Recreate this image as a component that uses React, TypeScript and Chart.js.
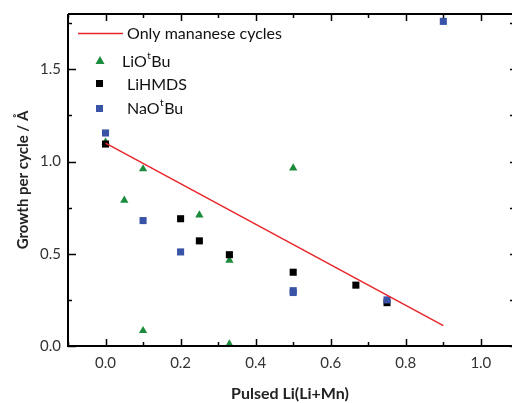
import React, { useEffect, useRef } from "react";
import { Chart, registerables } from "chart.js";
Chart.register(...registerables);

const lineX = [0, 0.9];
const lineY = [1.1, 0.11];
const liotbuX = [0, 0.05, 0.1, 0.1, 0.25, 0.33, 0.33, 0.5];
const liotbuY = [1.105, 0.79, 0.96, 0.083, 0.71, 0.465, 0.01, 0.965];
const lihmdsX = [0, 0.2, 0.25, 0.33, 0.5, 0.667, 0.75];
const lihmdsY = [1.095, 0.69, 0.57, 0.495, 0.4, 0.33, 0.235];
const naotbuX = [0, 0.1, 0.2, 0.5, 0.5, 0.75, 0.9];
const naotbuY = [1.155, 0.68, 0.51, 0.3, 0.29, 0.25, 1.76];
const xTicks = [0, 0.2, 0.4, 0.6, 0.8, 1.0];
const xMinor = [-0.1, 0.1, 0.3, 0.5, 0.7, 0.9];
const yTicks = [0, 0.5, 1.0, 1.5];
const yMinor = [0.25, 0.75, 1.25, 1.75];

const RED = "#e8262b";
const GREEN = "#1b8c3b";
const BLACK = "#000000";
const BLUE = "#3953a6";

const pts = (xs: number[], ys: number[]) => xs.map((x, i) => ({ x, y: ys[i] }));

const framePlugin = {
  id: "frame",
  afterDatasetsDraw(chart: any) {
    const { ctx, chartArea: a, scales } = chart;
    const xs = scales.x;
    const ys = scales.y;
    ctx.save();
    ctx.strokeStyle = "#000";
    ctx.lineWidth = 2;
    ctx.beginPath();
    ctx.moveTo(a.left, a.top);
    ctx.lineTo(a.left, a.bottom);
    ctx.lineTo(a.right, a.bottom);
    ctx.moveTo(a.left, a.top);
    ctx.lineTo(a.right, a.top);
    ctx.stroke();
    ctx.lineWidth = 1.5;
    ctx.beginPath();
    const tx = (v: number, len: number) => {
      const p = Math.round(xs.getPixelForValue(v)) + 0.5;
      ctx.moveTo(p, a.bottom);
      ctx.lineTo(p, a.bottom - len);
      ctx.moveTo(p, a.top);
      ctx.lineTo(p, a.top + len);
    };
    const ty = (v: number, len: number) => {
      const p = Math.round(ys.getPixelForValue(v)) + 0.5;
      ctx.moveTo(a.left, p);
      ctx.lineTo(a.left + len, p);
      ctx.moveTo(a.right, p);
      ctx.lineTo(a.right - 2, p);
    };
    xTicks.forEach((v) => tx(v, 7));
    xMinor.forEach((v) => tx(v, 4));
    yTicks.forEach((v) => ty(v, 8));
    yMinor.forEach((v) => ty(v, 4));
    ctx.stroke();
    ctx.restore();
  },
  afterDraw(chart: any) {
    const { ctx } = chart;
    ctx.save();
    ctx.fillStyle = "#111";
    ctx.textBaseline = "middle";
    const big = "16px Lato";
    const small = "10px Lato";
    ctx.strokeStyle = RED;
    ctx.lineWidth = 1.5;
    ctx.beginPath();
    ctx.moveTo(78, 33.5);
    ctx.lineTo(123, 33.5);
    ctx.stroke();
    ctx.font = big;
    ctx.fillText("Only mananese cycles", 127, 34);
    ctx.fillStyle = GREEN;
    ctx.beginPath();
    ctx.moveTo(100, 56);
    ctx.lineTo(104.5, 64);
    ctx.lineTo(95.5, 64);
    ctx.closePath();
    ctx.fill();
    ctx.fillStyle = "#111";
    const sup = (x: number, y: number, a: string, s: string, b: string) => {
      ctx.font = big;
      ctx.fillText(a, x, y);
      let w = ctx.measureText(a).width;
      ctx.font = small;
      ctx.fillText(s, x + w + 0.5, y - 6);
      w += ctx.measureText(s).width + 1;
      ctx.font = big;
      ctx.fillText(b, x + w, y);
    };
    sup(122, 62, "LiO", "t", "Bu");
    ctx.fillStyle = BLACK;
    ctx.fillRect(96, 80, 7, 7);
    ctx.fillStyle = "#111";
    ctx.font = big;
    ctx.fillText("LiHMDS", 127, 85);
    ctx.fillStyle = BLUE;
    ctx.fillRect(96, 105, 7, 7);
    ctx.fillStyle = "#111";
    sup(127, 109, "NaO", "t", "Bu");
    ctx.restore();
  },
};

export default function App() {
  const ref = useRef<HTMLCanvasElement>(null);
  useEffect(() => {
    document.body.style.margin = "0";
    const tickFont = { family: "Lato", size: 15 };
    const chart = new Chart(ref.current!, {
      type: "scatter",
      data: {
        datasets: [
          {
            type: "line",
            label: "Only mananese cycles",
            data: pts(lineX, lineY),
            borderColor: RED,
            borderWidth: 1.5,
            pointRadius: 0,
            fill: false,
          } as any,
          {
            label: "NaOtBu",
            data: pts(naotbuX, naotbuY),
            backgroundColor: BLUE,
            borderColor: BLUE,
            borderWidth: 0,
            pointStyle: "rect",
            pointRadius: 5,
          },
          {
            label: "LiHMDS",
            data: pts(lihmdsX, lihmdsY),
            backgroundColor: BLACK,
            borderColor: BLACK,
            borderWidth: 0,
            pointStyle: "rect",
            pointRadius: 5,
          },
          {
            label: "LiOtBu",
            data: pts(liotbuX, liotbuY),
            backgroundColor: GREEN,
            borderColor: GREEN,
            borderWidth: 0,
            pointStyle: "triangle",
            pointRadius: 4.8,
          },
        ],
      },
      options: {
        animation: false,
        responsive: false,
        devicePixelRatio: 1,
        layout: { autoPadding: false, padding: { top: 14, right: 0, left: 0, bottom: 0 } },
        plugins: { legend: { display: false }, tooltip: { enabled: false } },
        scales: {
          x: {
            type: "linear",
            min: -0.1,
            max: 1.083,
            grid: { display: false, drawTicks: false },
            border: { display: false },
            afterBuildTicks: (s: any) => {
              s.ticks = xTicks.map((v) => ({ value: v }));
            },
            afterFit: (s: any) => {
              s.height = 57;
              s.paddingLeft = 0;
              s.paddingRight = 0;
            },
            ticks: {
              font: tickFont,
              color: "#333",
              padding: 8,
              maxRotation: 0,
              callback: (v: any) => Number(v).toFixed(1),
            },
            title: {
              display: true,
              text: "Pulsed Li(Li+Mn)",
              font: { family: "Lato", size: 16, weight: "bold" },
              color: "#222",
              padding: { top: 0, bottom: 0 },
            },
          },
          y: {
            type: "linear",
            min: 0,
            max: 1.8,
            grid: { display: false, drawTicks: false },
            border: { display: false },
            afterBuildTicks: (s: any) => {
              s.ticks = yTicks.map((v) => ({ value: v }));
            },
            afterFit: (s: any) => {
              s.width = 68;
              s.paddingTop = 0;
              s.paddingBottom = 0;
            },
            ticks: {
              font: tickFont,
              color: "#333",
              padding: 7,
              callback: (v: any) => Number(v).toFixed(1),
            },
            title: {
              display: true,
              text: "Growth per cycle / Å",
              font: { family: "Lato", size: 15, weight: "bold" },
              color: "#222",
              padding: { top: 14, bottom: 0 },
            },
          },
        },
      },
      plugins: [framePlugin],
    } as any);
    return () => chart.destroy();
  }, []);
  return (
    <div style={{ width: 512, height: 403 }}>
      <canvas ref={ref} width={512} height={403} style={{ display: "block" }} />
    </div>
  );
}
